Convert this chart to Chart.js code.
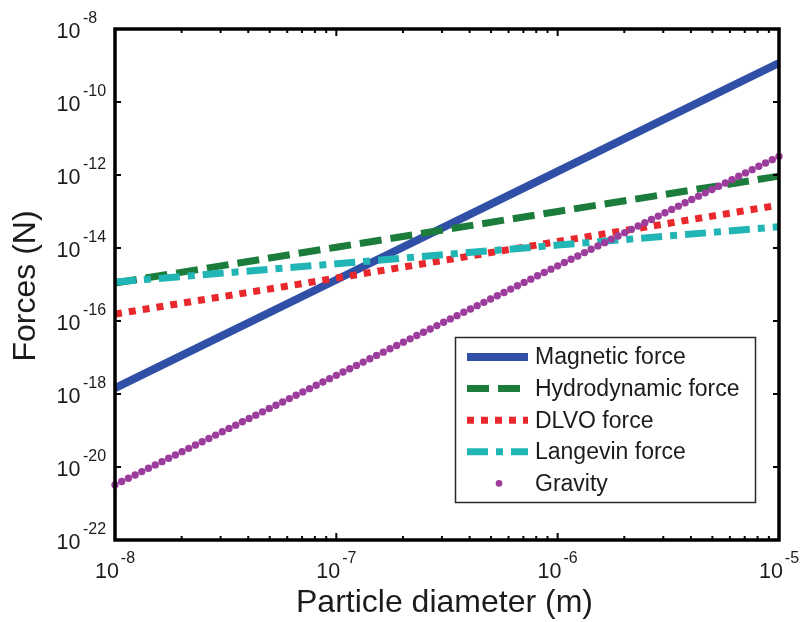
<!DOCTYPE html>
<html>
<head>
<meta charset="utf-8">
<script src="https://cdn.jsdelivr.net/npm/chart.js@4"></script>
<style>
html,body{margin:0;padding:0;background:#ffffff;}
#wrap{width:801px;height:622px;position:relative;}
</style>
</head>
<body>
<div id="wrap"><canvas id="c" width="801" height="622"></canvas></div>
<script>
// ---------------- DATA ----------------
const seriesNames = ['Magnetic force', 'Hydrodynamic force', 'DLVO force', 'Langevin force', 'Gravity'];

// particle diameters (m) of the sampled gravity markers
const diameters = [
  1.000e-8, 1.072e-8, 1.150e-8, 1.233e-8, 1.322e-8, 1.417e-8, 1.520e-8, 1.630e-8, 1.748e-8, 1.874e-8, 2.009e-8,
  2.154e-8, 2.310e-8, 2.477e-8, 2.656e-8, 2.848e-8, 3.054e-8, 3.275e-8, 3.511e-8, 3.765e-8, 4.037e-8, 4.329e-8,
  4.642e-8, 4.977e-8, 5.337e-8, 5.722e-8, 6.136e-8, 6.579e-8, 7.055e-8, 7.565e-8, 8.111e-8, 8.697e-8, 9.326e-8,
  1.000e-7, 1.072e-7, 1.150e-7, 1.233e-7, 1.322e-7, 1.417e-7, 1.520e-7, 1.630e-7, 1.748e-7, 1.874e-7, 2.009e-7,
  2.154e-7, 2.310e-7, 2.477e-7, 2.656e-7, 2.848e-7, 3.054e-7, 3.275e-7, 3.511e-7, 3.765e-7, 4.037e-7, 4.329e-7,
  4.642e-7, 4.977e-7, 5.337e-7, 5.722e-7, 6.136e-7, 6.579e-7, 7.055e-7, 7.565e-7, 8.111e-7, 8.697e-7, 9.326e-7,
  1.000e-6, 1.072e-6, 1.150e-6, 1.233e-6, 1.322e-6, 1.417e-6, 1.520e-6, 1.630e-6, 1.748e-6, 1.874e-6, 2.009e-6,
  2.154e-6, 2.310e-6, 2.477e-6, 2.656e-6, 2.848e-6, 3.054e-6, 3.275e-6, 3.511e-6, 3.765e-6, 4.037e-6, 4.329e-6,
  4.642e-6, 4.977e-6, 5.337e-6, 5.722e-6, 6.136e-6, 6.579e-6, 7.055e-6, 7.565e-6, 8.111e-6, 8.697e-6, 9.326e-6,
  1.000e-5
];

// gravity (N) at each of the diameters above
const gravity = [
  3.24e-21, 3.99e-21, 4.92e-21, 6.06e-21, 7.48e-21, 9.22e-21, 1.14e-20, 1.40e-20, 1.73e-20, 2.13e-20, 2.63e-20,
  3.24e-20, 3.99e-20, 4.92e-20, 6.06e-20, 7.48e-20, 9.22e-20, 1.14e-19, 1.40e-19, 1.73e-19, 2.13e-19, 2.63e-19,
  3.24e-19, 3.99e-19, 4.92e-19, 6.06e-19, 7.48e-19, 9.22e-19, 1.14e-18, 1.40e-18, 1.73e-18, 2.13e-18, 2.63e-18,
  3.24e-18, 3.99e-18, 4.92e-18, 6.06e-18, 7.48e-18, 9.22e-18, 1.14e-17, 1.40e-17, 1.73e-17, 2.13e-17, 2.63e-17,
  3.24e-17, 3.99e-17, 4.92e-17, 6.06e-17, 7.48e-17, 9.22e-17, 1.14e-16, 1.40e-16, 1.73e-16, 2.13e-16, 2.63e-16,
  3.24e-16, 3.99e-16, 4.92e-16, 6.06e-16, 7.48e-16, 9.22e-16, 1.14e-15, 1.40e-15, 1.73e-15, 2.13e-15, 2.63e-15,
  3.24e-15, 3.99e-15, 4.92e-15, 6.06e-15, 7.48e-15, 9.22e-15, 1.14e-14, 1.40e-14, 1.73e-14, 2.13e-14, 2.63e-14,
  3.24e-14, 3.99e-14, 4.92e-14, 6.06e-14, 7.48e-14, 9.22e-14, 1.14e-13, 1.40e-13, 1.73e-13, 2.13e-13, 2.63e-13,
  3.24e-13, 3.99e-13, 4.92e-13, 6.06e-13, 7.48e-13, 9.22e-13, 1.14e-12, 1.40e-12, 1.73e-12, 2.13e-12, 2.63e-12,
  3.24e-12
];

// the straight line series, read at each decade of diameter
const lineDiameters = [1e-8, 1e-7, 1e-6, 1e-5];
const magnetic      = [1.45e-18, 1.35e-15, 1.26e-12, 1.17e-9];
const hydrodynamic  = [1.10e-15, 1.05e-14, 1.00e-13, 9.30e-13];
const dlvo          = [1.55e-16, 1.50e-15, 1.50e-14, 1.50e-13];
const langevin      = [1.17e-15, 3.70e-15, 1.20e-14, 3.80e-14];

// axes
const xMin = 1e-8, xMax = 1e-5;
const yMin = 1e-22, yMax = 1e-8;
const xTickValues = [1e-8, 1e-7, 1e-6, 1e-5];
const xTickExponents = ['-8', '-7', '-6', '-5'];
const xMinorMultipliers = [2, 3, 4, 5, 6, 7, 8, 9];
const yTickValues = [1e-22, 1e-20, 1e-18, 1e-16, 1e-14, 1e-12, 1e-10, 1e-8];
const yTickExponents = ['-22', '-20', '-18', '-16', '-14', '-12', '-10', '-8'];
const tickBase = '10';
const xTitle = 'Particle diameter (m)';
const yTitle = 'Forces (N)';

// ---------------- STYLE ----------------
const FONT = '"Liberation Sans", Arial, Helvetica, sans-serif';
const TEXT = '#1c1c1c';

const toPoints = (xs, ys) => xs.map((x, i) => ({ x: x, y: ys[i] }));

const lineCommon = { pointRadius: 0, pointHoverRadius: 0, tension: 0, clip: false, fill: false, borderCapStyle: 'butt', borderJoinStyle: 'round' };

const datasets = [
  Object.assign({ label: seriesNames[0], data: toPoints(lineDiameters, magnetic), borderColor: '#3050a8', borderWidth: 8, order: 5 }, lineCommon),
  Object.assign({ label: seriesNames[1], data: toPoints(lineDiameters, hydrodynamic), borderColor: '#1b7c3c', borderWidth: 7, borderDash: [22, 9], order: 4 }, lineCommon),
  Object.assign({ label: seriesNames[2], data: toPoints(lineDiameters, dlvo), borderColor: '#e8282c', borderWidth: 7, borderDash: [7, 7], order: 3 }, lineCommon),
  Object.assign({ label: seriesNames[3], data: toPoints(lineDiameters, langevin), borderColor: '#22b5b5', borderWidth: 7, borderDash: [21, 8, 7, 8], order: 2 }, lineCommon),
  { label: seriesNames[4], data: toPoints(diameters, gravity), showLine: false, pointRadius: 3.7, pointHoverRadius: 3.7,
    pointBackgroundColor: '#9c3c9c', pointBorderWidth: 0, borderColor: '#9c3c9c', backgroundColor: '#9c3c9c', clip: false, order: 1 }
];

function isDecade(v) {
  const l = Math.log10(v);
  return Math.abs(l - Math.round(l)) < 1e-6;
}

const matlabLook = {
  id: 'matlabLook',
  afterDraw(chart) {
    const ctx = chart.ctx;
    const xs = chart.scales.x, ys = chart.scales.y;
    const a = chart.chartArea;
    ctx.save();

    // ticks (inward, on all four sides)
    ctx.strokeStyle = '#000';
    ctx.lineWidth = 2;
    ctx.setLineDash([]);
    xs.ticks.forEach(t => {
      const px = xs.getPixelForValue(t.value);
      const len = isDecade(t.value) ? 7 : 4;
      ctx.beginPath();
      ctx.moveTo(px, a.bottom); ctx.lineTo(px, a.bottom - len);
      ctx.moveTo(px, a.top); ctx.lineTo(px, a.top + len);
      ctx.stroke();
    });
    ys.ticks.forEach(t => {
      const py = ys.getPixelForValue(t.value);
      ctx.beginPath();
      ctx.moveTo(a.left, py); ctx.lineTo(a.left + 6, py);
      ctx.moveTo(a.right, py); ctx.lineTo(a.right - 6, py);
      ctx.stroke();
    });

    // box
    ctx.lineWidth = 3.5;
    ctx.strokeRect(a.left, a.top, a.right - a.left, a.bottom - a.top);

    // tick labels
    ctx.fillStyle = TEXT;
    ctx.textBaseline = 'alphabetic';
    const baseFont = '21.5px ' + FONT;
    const expFont = '16px ' + FONT;
    xTickValues.forEach((v, i) => {
      const px = xs.getPixelForValue(v);
      ctx.font = baseFont;
      const wb = ctx.measureText(tickBase).width;
      ctx.font = expFont;
      const we = ctx.measureText(xTickExponents[i]).width;
      const start = px - (wb + 2 + we) / 2;
      ctx.textAlign = 'left';
      ctx.font = baseFont;
      ctx.fillText(tickBase, start, 578);
      ctx.font = expFont;
      ctx.fillText(xTickExponents[i], start + wb + 2, 563);
    });
    yTickValues.forEach((v, i) => {
      const py = ys.getPixelForValue(v);
      ctx.font = baseFont;
      ctx.textAlign = 'right';
      ctx.fillText(tickBase, 80.5, py + 8.5);
      ctx.font = expFont;
      ctx.textAlign = 'left';
      ctx.fillText(yTickExponents[i], 83, py - 6.5);
    });

    // axis titles
    ctx.font = '32px ' + FONT;
    ctx.textAlign = 'center';
    ctx.fillText(xTitle, 444.5, 612);
    ctx.save();
    ctx.translate(35, 286);
    ctx.rotate(-Math.PI / 2);
    ctx.fillText(yTitle, 0, 0);
    ctx.restore();

    // legend
    const lx = 455.5, ly = 337.5, lw = 300, lh = 165;
    ctx.fillStyle = '#ffffff';
    ctx.fillRect(lx, ly, lw, lh);
    ctx.strokeStyle = '#2a2a2a';
    ctx.lineWidth = 1.5;
    ctx.strokeRect(lx, ly, lw, lh);
    const ds = chart.data.datasets;
    ds.forEach((d, i) => {
      const ry = 357 + i * 31.6;
      if (d.showLine === false) {
        ctx.fillStyle = d.pointBackgroundColor;
        ctx.beginPath();
        ctx.arc(499, ry, 3.3, 0, Math.PI * 2);
        ctx.fill();
      } else {
        ctx.strokeStyle = d.borderColor;
        ctx.lineWidth = d.borderWidth;
        ctx.lineCap = 'butt';
        ctx.setLineDash(d.borderDash || []);
        ctx.beginPath();
        ctx.moveTo(467, ry); ctx.lineTo(528, ry);
        ctx.stroke();
        ctx.setLineDash([]);
      }
      ctx.fillStyle = TEXT;
      ctx.font = '23px ' + FONT;
      ctx.textAlign = 'left';
      ctx.textBaseline = 'middle';
      ctx.fillText(d.label, 535, ry + 1);
    });
    ctx.restore();
  }
};

new Chart(document.getElementById('c'), {
  type: 'line',
  data: { datasets: datasets },
  options: {
    responsive: false,
    animation: false,
    devicePixelRatio: 1,
    layout: { padding: { left: 115, right: 22, top: 29, bottom: 82 } },
    plugins: { legend: { display: false }, tooltip: { enabled: false } },
    events: [],
    scales: {
      x: {
        type: 'logarithmic', min: xMin, max: xMax,
        ticks: { display: false },
        grid: { display: false, drawTicks: false },
        border: { display: false },
        title: { display: false },
        afterBuildTicks: (scale) => {
          const t = [];
          xTickValues.forEach((v, i) => {
            t.push({ value: v });
            if (i < xTickValues.length - 1) xMinorMultipliers.forEach(m => t.push({ value: m * v }));
          });
          scale.ticks = t;
        }
      },
      y: {
        type: 'logarithmic', min: yMin, max: yMax,
        ticks: { display: false },
        grid: { display: false, drawTicks: false },
        border: { display: false },
        title: { display: false },
        afterBuildTicks: (scale) => { scale.ticks = yTickValues.map(v => ({ value: v })); }
      }
    }
  },
  plugins: [matlabLook]
});
</script>
</body>
</html>
